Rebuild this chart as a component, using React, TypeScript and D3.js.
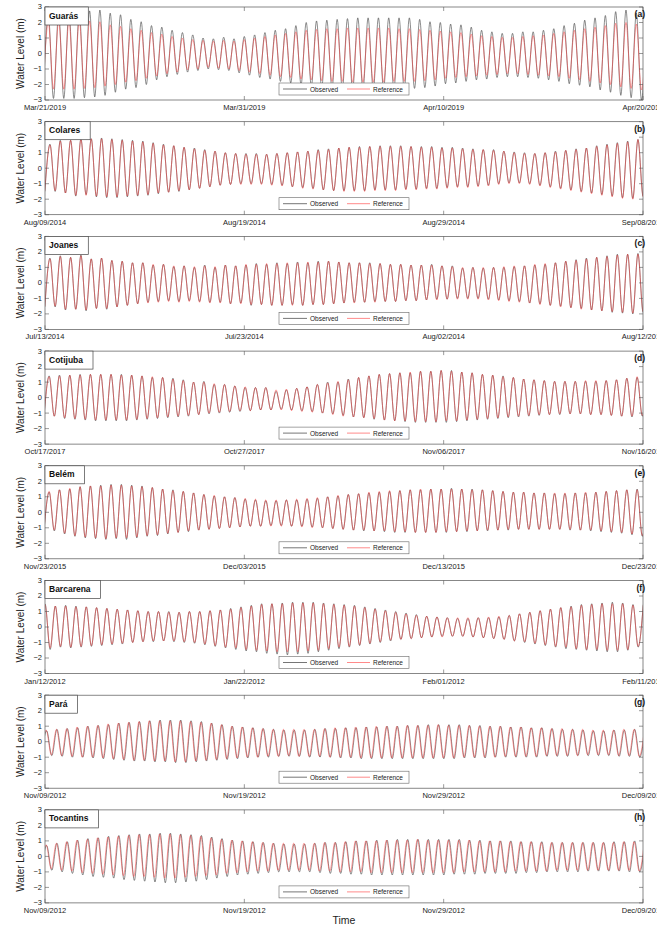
import React from "react";
import * as d3 from "d3";

// ---------- DATA (water level extrema per semidiurnal cycle, metres) ----------
const stationNames = ["Guarás", "Colares", "Joanes", "Cotijuba", "Belém", "Barcarena", "Pará", "Tocantins"];
const panelLetters = ["(a)", "(b)", "(c)", "(d)", "(e)", "(f)", "(g)", "(h)"];
const dateTicks = [
  ["Mar/21/2019", "Mar/31/2019", "Apr/10/2019", "Apr/20/2019"],
  ["Aug/09/2014", "Aug/19/2014", "Aug/29/2014", "Sep/08/2014"],
  ["Jul/13/2014", "Jul/23/2014", "Aug/02/2014", "Aug/12/2014"],
  ["Oct/17/2017", "Oct/27/2017", "Nov/06/2017", "Nov/16/2017"],
  ["Nov/23/2015", "Dec/03/2015", "Dec/13/2015", "Dec/23/2015"],
  ["Jan/12/2012", "Jan/22/2012", "Feb/01/2012", "Feb/11/2012"],
  ["Nov/09/2012", "Nov/19/2012", "Nov/29/2012", "Dec/09/2012"],
  ["Nov/09/2012", "Nov/19/2012", "Nov/29/2012", "Dec/09/2012"],
];
const tickDays = [0, 10, 20, 30];
const yTicks = [3, 2, 1, 0, -1, -2, -3];
const firstHighHour = [4, 6, 6, 5, 5, 0, 2, 2];
const refLagHour = [0, 0, 0, 0, 0, 0, -0.6, -0.7];
const tidalPeriodHours = 12.42;

const guarasObsHigh = [2.5, 2.6, 2.7, 2.7, 2.75, 2.8, 2.6, 2.5, 2.2, 2.05, 1.8, 1.7, 1.5, 1.35, 1.2, 1.0, 0.95, 1.05, 0.95, 1.1, 1.2, 1.35, 1.5, 1.6, 1.8, 2.0, 2.1, 2.15, 2.2, 2.25, 2.3, 2.3, 2.3, 2.3, 2.3, 2.3, 2.2, 2.05, 2.0, 1.9, 1.85, 1.7, 1.5, 1.4, 1.3, 1.3, 1.4, 1.4, 1.5, 1.6, 1.8, 1.95, 2.15, 2.3, 2.45, 2.7, 2.8, 2.6];
const guarasObsLow = [-2.9, -2.9, -2.9, -2.85, -2.8, -2.7, -2.5, -2.3, -2.2, -2.0, -1.7, -1.5, -1.35, -1.2, -1.1, -1.0, -1.05, -1.1, -1.25, -1.4, -1.55, -1.65, -1.8, -1.9, -2.0, -2.1, -2.2, -2.25, -2.3, -2.35, -2.35, -2.35, -2.3, -2.3, -2.3, -2.25, -2.2, -2.1, -1.95, -1.9, -1.8, -1.7, -1.65, -1.55, -1.5, -1.5, -1.55, -1.6, -1.7, -1.8, -1.95, -2.05, -2.15, -2.35, -2.5, -2.7, -2.85, -3.0];
const guarasRefHigh = [2.0, 2.1, 2.1, 2.1, 2.1, 2.05, 1.85, 1.75, 1.6, 1.5, 1.35, 1.25, 1.1, 1.0, 0.9, 0.85, 0.8, 0.85, 0.8, 0.9, 1.0, 1.1, 1.2, 1.3, 1.4, 1.5, 1.55, 1.6, 1.6, 1.65, 1.65, 1.65, 1.65, 1.65, 1.6, 1.6, 1.55, 1.5, 1.45, 1.4, 1.35, 1.25, 1.15, 1.1, 1.05, 1.05, 1.1, 1.15, 1.2, 1.3, 1.4, 1.5, 1.6, 1.7, 1.8, 1.95, 2.0, 1.9];
const guarasRefLow = [-2.3, -2.3, -2.3, -2.25, -2.2, -2.1, -2.0, -1.85, -1.75, -1.6, -1.45, -1.3, -1.2, -1.05, -1.0, -0.9, -0.95, -1.0, -1.1, -1.2, -1.3, -1.4, -1.5, -1.55, -1.65, -1.7, -1.75, -1.8, -1.8, -1.85, -1.85, -1.85, -1.85, -1.8, -1.8, -1.8, -1.75, -1.7, -1.6, -1.55, -1.5, -1.45, -1.4, -1.35, -1.3, -1.3, -1.35, -1.4, -1.45, -1.5, -1.6, -1.7, -1.8, -1.9, -2.0, -2.15, -2.25, -2.35];

const colaresObsHigh = [1.55, 1.8, 1.8, 1.9, 1.9, 1.95, 1.9, 1.85, 1.8, 1.75, 1.65, 1.55, 1.45, 1.35, 1.3, 1.2, 1.1, 1.0, 0.95, 0.95, 0.95, 0.9, 0.95, 1.0, 1.05, 1.1, 1.2, 1.25, 1.3, 1.35, 1.4, 1.4, 1.45, 1.45, 1.45, 1.4, 1.4, 1.4, 1.35, 1.35, 1.3, 1.25, 1.2, 1.2, 1.1, 1.05, 1.0, 0.95, 1.0, 1.1, 1.15, 1.25, 1.3, 1.45, 1.55, 1.65, 1.75, 1.85];
const colaresObsLow = [-1.5, -1.6, -1.8, -1.7, -1.85, -1.9, -1.9, -1.85, -1.8, -1.75, -1.65, -1.55, -1.5, -1.4, -1.3, -1.2, -1.1, -1.05, -1.0, -1.0, -1.0, -1.05, -1.1, -1.2, -1.25, -1.3, -1.4, -1.45, -1.45, -1.45, -1.45, -1.4, -1.4, -1.4, -1.35, -1.35, -1.3, -1.3, -1.25, -1.2, -1.2, -1.15, -1.1, -1.0, -0.95, -0.95, -1.0, -1.1, -1.2, -1.3, -1.4, -1.5, -1.6, -1.7, -1.8, -1.9, -1.95, -1.8];
const colaresRefHigh = [1.5, 1.75, 1.8, 1.85, 1.9, 1.9, 1.85, 1.8, 1.75, 1.7, 1.6, 1.5, 1.45, 1.35, 1.25, 1.15, 1.1, 1.0, 0.95, 0.9, 0.9, 0.9, 0.95, 1.0, 1.05, 1.1, 1.15, 1.2, 1.3, 1.35, 1.35, 1.4, 1.4, 1.4, 1.4, 1.4, 1.35, 1.35, 1.3, 1.3, 1.25, 1.2, 1.2, 1.15, 1.1, 1.0, 0.95, 0.95, 1.0, 1.05, 1.15, 1.2, 1.3, 1.4, 1.5, 1.6, 1.7, 1.85];
const colaresRefLow = [-1.45, -1.6, -1.75, -1.75, -1.8, -1.85, -1.85, -1.8, -1.75, -1.7, -1.6, -1.55, -1.45, -1.4, -1.3, -1.2, -1.1, -1.05, -1.05, -1.05, -1.05, -1.1, -1.15, -1.2, -1.3, -1.35, -1.4, -1.45, -1.5, -1.5, -1.5, -1.45, -1.45, -1.45, -1.4, -1.4, -1.35, -1.35, -1.3, -1.25, -1.25, -1.2, -1.15, -1.05, -1.0, -1.0, -1.05, -1.15, -1.25, -1.35, -1.45, -1.55, -1.65, -1.75, -1.85, -1.95, -2.0, -1.85];

const joanesObsHigh = [1.6, 1.75, 1.65, 1.8, 1.55, 1.6, 1.45, 1.4, 1.3, 1.3, 1.15, 1.2, 1.05, 1.1, 1.0, 1.15, 1.0, 1.15, 1.1, 1.15, 1.25, 1.2, 1.3, 1.25, 1.35, 1.3, 1.4, 1.4, 1.35, 1.3, 1.3, 1.3, 1.25, 1.2, 1.2, 1.15, 1.15, 1.2, 1.1, 1.1, 0.95, 1.0, 0.95, 1.0, 1.0, 1.05, 1.1, 1.15, 1.2, 1.3, 1.4, 1.5, 1.6, 1.65, 1.75, 1.85, 1.85, 1.9];
const joanesObsLow = [-1.55, -1.75, -1.7, -1.8, -1.65, -1.7, -1.55, -1.45, -1.35, -1.25, -1.2, -1.15, -1.2, -1.15, -1.2, -1.25, -1.25, -1.35, -1.3, -1.45, -1.4, -1.45, -1.45, -1.4, -1.45, -1.4, -1.4, -1.35, -1.3, -1.25, -1.25, -1.2, -1.2, -1.2, -1.15, -1.15, -1.1, -1.05, -1.05, -1.0, -1.0, -1.0, -1.05, -1.1, -1.15, -1.2, -1.3, -1.35, -1.45, -1.5, -1.6, -1.65, -1.75, -1.8, -1.9, -1.95, -2.0, -1.9];
const joanesRefHigh = [1.55, 1.7, 1.65, 1.75, 1.55, 1.6, 1.45, 1.4, 1.3, 1.3, 1.2, 1.2, 1.1, 1.1, 1.05, 1.1, 1.05, 1.15, 1.1, 1.2, 1.2, 1.25, 1.25, 1.3, 1.3, 1.35, 1.35, 1.4, 1.35, 1.3, 1.3, 1.25, 1.25, 1.2, 1.2, 1.15, 1.15, 1.15, 1.1, 1.05, 1.0, 1.0, 1.0, 1.0, 1.05, 1.1, 1.1, 1.2, 1.25, 1.3, 1.4, 1.45, 1.55, 1.65, 1.7, 1.8, 1.85, 1.85];
const joanesRefLow = [-1.5, -1.7, -1.7, -1.75, -1.65, -1.65, -1.55, -1.45, -1.35, -1.3, -1.25, -1.2, -1.25, -1.2, -1.25, -1.3, -1.3, -1.35, -1.35, -1.4, -1.4, -1.45, -1.45, -1.45, -1.45, -1.4, -1.4, -1.35, -1.3, -1.3, -1.25, -1.25, -1.2, -1.2, -1.15, -1.15, -1.1, -1.1, -1.05, -1.05, -1.05, -1.05, -1.1, -1.15, -1.2, -1.25, -1.3, -1.4, -1.45, -1.55, -1.6, -1.7, -1.75, -1.8, -1.85, -1.9, -1.95, -1.85];

const cotijubaObsHigh = [1.4, 1.45, 1.45, 1.5, 1.5, 1.5, 1.5, 1.5, 1.45, 1.4, 1.3, 1.3, 1.25, 1.15, 1.0, 1.05, 0.85, 0.85, 0.75, 0.65, 0.65, 0.65, 0.4, 0.5, 0.6, 0.7, 0.85, 1.0, 1.0, 1.2, 1.3, 1.4, 1.5, 1.55, 1.6, 1.6, 1.7, 1.7, 1.75, 1.75, 1.65, 1.6, 1.5, 1.45, 1.4, 1.3, 1.2, 1.15, 1.1, 1.05, 1.05, 1.05, 1.05, 1.05, 1.1, 1.15, 1.25, 1.3];
const cotijubaObsLow = [-1.2, -1.35, -1.4, -1.45, -1.5, -1.5, -1.5, -1.5, -1.45, -1.4, -1.35, -1.3, -1.25, -1.2, -1.1, -1.05, -1.0, -0.95, -0.9, -0.85, -0.8, -0.8, -0.75, -0.8, -0.85, -0.9, -1.0, -1.05, -1.15, -1.25, -1.3, -1.4, -1.45, -1.5, -1.55, -1.6, -1.6, -1.6, -1.6, -1.55, -1.5, -1.45, -1.4, -1.35, -1.3, -1.25, -1.2, -1.15, -1.1, -1.1, -1.05, -1.05, -1.1, -1.1, -1.15, -1.2, -1.25, -1.2];
const cotijubaRefHigh = [1.35, 1.4, 1.45, 1.45, 1.5, 1.5, 1.5, 1.45, 1.45, 1.4, 1.35, 1.3, 1.2, 1.1, 1.0, 1.0, 0.9, 0.85, 0.75, 0.7, 0.65, 0.65, 0.5, 0.55, 0.6, 0.7, 0.85, 0.95, 1.05, 1.15, 1.3, 1.4, 1.5, 1.55, 1.6, 1.65, 1.7, 1.7, 1.75, 1.7, 1.65, 1.6, 1.5, 1.45, 1.35, 1.3, 1.2, 1.15, 1.1, 1.05, 1.05, 1.05, 1.1, 1.1, 1.1, 1.15, 1.25, 1.35];
const cotijubaRefLow = [-1.2, -1.3, -1.35, -1.4, -1.45, -1.45, -1.45, -1.45, -1.4, -1.35, -1.3, -1.25, -1.2, -1.15, -1.1, -1.0, -0.95, -0.9, -0.85, -0.85, -0.8, -0.8, -0.8, -0.85, -0.9, -0.95, -1.0, -1.1, -1.2, -1.25, -1.3, -1.35, -1.45, -1.5, -1.5, -1.55, -1.55, -1.55, -1.5, -1.5, -1.45, -1.4, -1.35, -1.3, -1.25, -1.2, -1.15, -1.1, -1.1, -1.05, -1.05, -1.05, -1.1, -1.1, -1.15, -1.2, -1.2, -1.15];

const belemObsHigh = [1.3, 1.45, 1.5, 1.65, 1.7, 1.75, 1.8, 1.8, 1.75, 1.7, 1.6, 1.5, 1.45, 1.35, 1.25, 1.15, 1.05, 1.0, 0.95, 0.85, 0.8, 0.75, 0.75, 0.8, 0.8, 0.85, 0.9, 1.0, 1.05, 1.15, 1.2, 1.25, 1.3, 1.35, 1.4, 1.45, 1.45, 1.5, 1.5, 1.55, 1.5, 1.5, 1.45, 1.4, 1.35, 1.3, 1.3, 1.25, 1.25, 1.2, 1.2, 1.25, 1.25, 1.3, 1.35, 1.4, 1.45, 1.5];
const belemObsLow = [-1.2, -1.4, -1.55, -1.65, -1.7, -1.75, -1.7, -1.75, -1.65, -1.55, -1.5, -1.4, -1.3, -1.25, -1.15, -1.1, -1.05, -1.0, -0.95, -0.9, -0.9, -0.85, -0.85, -0.9, -0.9, -0.95, -1.0, -1.05, -1.1, -1.15, -1.2, -1.2, -1.25, -1.3, -1.3, -1.3, -1.3, -1.3, -1.3, -1.25, -1.25, -1.2, -1.2, -1.15, -1.15, -1.1, -1.1, -1.1, -1.1, -1.1, -1.15, -1.15, -1.2, -1.25, -1.3, -1.35, -1.45, -1.55];
const belemRefHigh = [1.35, 1.45, 1.55, 1.65, 1.7, 1.7, 1.75, 1.75, 1.7, 1.65, 1.6, 1.5, 1.4, 1.35, 1.25, 1.15, 1.1, 1.0, 0.95, 0.9, 0.85, 0.8, 0.8, 0.8, 0.85, 0.9, 0.95, 1.0, 1.1, 1.15, 1.2, 1.3, 1.35, 1.4, 1.4, 1.45, 1.5, 1.5, 1.5, 1.5, 1.5, 1.45, 1.45, 1.4, 1.35, 1.3, 1.3, 1.25, 1.25, 1.25, 1.25, 1.25, 1.3, 1.3, 1.35, 1.4, 1.45, 1.45];
const belemRefLow = [-1.15, -1.35, -1.5, -1.6, -1.65, -1.7, -1.65, -1.65, -1.6, -1.5, -1.45, -1.35, -1.3, -1.2, -1.15, -1.1, -1.05, -1.0, -0.95, -0.9, -0.9, -0.9, -0.9, -0.9, -0.95, -1.0, -1.0, -1.05, -1.1, -1.15, -1.15, -1.2, -1.2, -1.25, -1.25, -1.3, -1.3, -1.3, -1.25, -1.25, -1.2, -1.2, -1.15, -1.15, -1.1, -1.1, -1.1, -1.1, -1.1, -1.1, -1.1, -1.15, -1.15, -1.2, -1.25, -1.3, -1.4, -1.5];

const barcarenaObsHigh = [1.5, 1.35, 1.4, 1.35, 1.3, 1.25, 1.2, 1.15, 1.1, 1.05, 1.0, 1.0, 1.0, 0.95, 1.0, 1.0, 1.05, 1.1, 1.2, 1.3, 1.4, 1.5, 1.5, 1.55, 1.6, 1.6, 1.6, 1.55, 1.5, 1.45, 1.4, 1.3, 1.2, 1.1, 1.0, 0.9, 0.8, 0.7, 0.65, 0.6, 0.55, 0.55, 0.6, 0.6, 0.65, 0.75, 0.85, 0.95, 1.05, 1.15, 1.25, 1.35, 1.45, 1.5, 1.55, 1.6, 1.55, 1.45];
const barcarenaObsLow = [-1.45, -1.3, -1.35, -1.3, -1.25, -1.2, -1.15, -1.1, -1.0, -0.95, -0.95, -0.9, -0.95, -1.0, -1.05, -1.15, -1.25, -1.35, -1.45, -1.55, -1.6, -1.7, -1.75, -1.8, -1.75, -1.7, -1.6, -1.5, -1.4, -1.3, -1.2, -1.1, -1.0, -0.9, -0.8, -0.75, -0.7, -0.65, -0.6, -0.6, -0.6, -0.65, -0.7, -0.75, -0.8, -0.9, -1.0, -1.1, -1.2, -1.3, -1.4, -1.45, -1.5, -1.55, -1.6, -1.6, -1.5, -1.3];
const barcarenaRefHigh = [1.45, 1.35, 1.35, 1.3, 1.3, 1.25, 1.2, 1.15, 1.1, 1.05, 1.0, 1.0, 0.95, 0.95, 1.0, 1.0, 1.05, 1.1, 1.15, 1.25, 1.35, 1.45, 1.5, 1.5, 1.55, 1.55, 1.55, 1.5, 1.45, 1.4, 1.35, 1.25, 1.15, 1.05, 0.95, 0.85, 0.75, 0.7, 0.65, 0.6, 0.6, 0.6, 0.6, 0.65, 0.7, 0.75, 0.85, 0.95, 1.05, 1.15, 1.25, 1.3, 1.4, 1.45, 1.5, 1.5, 1.5, 1.4];
const barcarenaRefLow = [-1.35, -1.25, -1.3, -1.25, -1.2, -1.15, -1.1, -1.05, -1.0, -0.95, -0.9, -0.9, -0.9, -0.95, -1.0, -1.1, -1.2, -1.3, -1.35, -1.45, -1.5, -1.55, -1.6, -1.6, -1.6, -1.55, -1.5, -1.4, -1.3, -1.25, -1.15, -1.05, -0.95, -0.85, -0.8, -0.75, -0.7, -0.65, -0.65, -0.6, -0.6, -0.65, -0.7, -0.75, -0.8, -0.9, -0.95, -1.05, -1.15, -1.25, -1.3, -1.4, -1.45, -1.45, -1.5, -1.5, -1.45, -1.25];

const paraObsHigh = [0.7, 0.8, 0.85, 0.9, 1.0, 1.05, 1.1, 1.2, 1.25, 1.3, 1.35, 1.4, 1.4, 1.4, 1.35, 1.3, 1.2, 1.1, 1.0, 0.95, 0.9, 0.85, 0.8, 0.75, 0.75, 0.75, 0.8, 0.85, 0.85, 0.9, 0.9, 0.95, 0.95, 1.0, 1.0, 1.05, 1.05, 1.1, 1.1, 1.1, 1.1, 1.05, 1.05, 1.0, 1.0, 0.95, 0.95, 0.9, 0.9, 0.85, 0.8, 0.8, 0.75, 0.7, 0.7, 0.75, 0.75, 0.8];
const paraObsLow = [-0.9, -0.95, -1.0, -1.0, -1.05, -1.1, -1.15, -1.2, -1.25, -1.25, -1.3, -1.3, -1.35, -1.35, -1.3, -1.25, -1.2, -1.15, -1.1, -1.05, -1.0, -1.0, -0.95, -0.95, -0.95, -1.0, -1.0, -1.0, -1.05, -1.05, -1.1, -1.1, -1.1, -1.1, -1.1, -1.1, -1.1, -1.1, -1.1, -1.1, -1.05, -1.05, -1.05, -1.0, -1.0, -1.0, -1.0, -1.0, -0.95, -0.95, -0.95, -0.9, -0.9, -0.9, -0.9, -0.95, -0.95, -1.0];
const paraRefHigh = [0.75, 0.8, 0.85, 0.95, 1.0, 1.05, 1.15, 1.2, 1.25, 1.3, 1.35, 1.35, 1.35, 1.35, 1.3, 1.25, 1.2, 1.1, 1.0, 0.95, 0.9, 0.85, 0.8, 0.8, 0.8, 0.8, 0.8, 0.85, 0.9, 0.9, 0.95, 0.95, 1.0, 1.0, 1.0, 1.05, 1.05, 1.05, 1.1, 1.05, 1.05, 1.05, 1.0, 1.0, 1.0, 0.95, 0.95, 0.9, 0.9, 0.85, 0.85, 0.8, 0.8, 0.75, 0.75, 0.75, 0.8, 0.8];
const paraRefLow = [-0.85, -0.9, -0.95, -1.0, -1.0, -1.05, -1.1, -1.15, -1.2, -1.2, -1.25, -1.25, -1.3, -1.3, -1.25, -1.2, -1.15, -1.1, -1.05, -1.0, -1.0, -0.95, -0.95, -0.9, -0.95, -0.95, -0.95, -1.0, -1.0, -1.0, -1.05, -1.05, -1.05, -1.05, -1.05, -1.05, -1.05, -1.05, -1.05, -1.05, -1.0, -1.0, -1.0, -1.0, -0.95, -0.95, -0.95, -0.95, -0.9, -0.9, -0.9, -0.9, -0.85, -0.85, -0.85, -0.9, -0.9, -0.95];

const tocantinsObsHigh = [0.7, 0.85, 0.95, 1.05, 1.15, 1.2, 1.3, 1.35, 1.4, 1.45, 1.45, 1.5, 1.5, 1.45, 1.4, 1.35, 1.25, 1.15, 1.05, 1.0, 0.95, 0.9, 0.85, 0.8, 0.8, 0.8, 0.85, 0.9, 0.9, 0.95, 1.0, 1.0, 1.05, 1.05, 1.1, 1.1, 1.1, 1.1, 1.1, 1.1, 1.1, 1.05, 1.05, 1.0, 1.0, 1.0, 0.95, 0.95, 0.95, 0.9, 0.9, 0.9, 0.9, 0.9, 0.9, 0.95, 0.95, 1.0];
const tocantinsObsLow = [-0.9, -1.0, -1.1, -1.2, -1.3, -1.35, -1.4, -1.5, -1.55, -1.6, -1.65, -1.7, -1.7, -1.65, -1.6, -1.5, -1.4, -1.3, -1.2, -1.15, -1.1, -1.05, -1.0, -1.0, -1.0, -1.0, -1.05, -1.1, -1.1, -1.15, -1.15, -1.2, -1.2, -1.2, -1.2, -1.2, -1.2, -1.2, -1.2, -1.15, -1.15, -1.15, -1.1, -1.1, -1.1, -1.1, -1.05, -1.05, -1.0, -1.0, -1.0, -1.0, -0.95, -0.95, -0.95, -0.95, -1.0, -1.0];
const tocantinsRefHigh = [0.75, 0.85, 0.95, 1.05, 1.1, 1.2, 1.25, 1.3, 1.35, 1.4, 1.4, 1.45, 1.45, 1.4, 1.35, 1.3, 1.2, 1.1, 1.05, 1.0, 0.95, 0.9, 0.85, 0.85, 0.85, 0.85, 0.85, 0.9, 0.9, 0.95, 1.0, 1.0, 1.0, 1.05, 1.05, 1.05, 1.1, 1.05, 1.05, 1.05, 1.05, 1.05, 1.0, 1.0, 1.0, 0.95, 0.95, 0.95, 0.9, 0.9, 0.9, 0.9, 0.9, 0.9, 0.9, 0.9, 0.95, 0.95];
const tocantinsRefLow = [-0.8, -0.9, -0.95, -1.05, -1.1, -1.15, -1.2, -1.25, -1.3, -1.3, -1.35, -1.4, -1.4, -1.35, -1.3, -1.25, -1.2, -1.1, -1.05, -1.0, -0.95, -0.95, -0.9, -0.9, -0.9, -0.9, -0.95, -0.95, -1.0, -1.0, -1.0, -1.05, -1.05, -1.05, -1.05, -1.05, -1.05, -1.05, -1.05, -1.05, -1.0, -1.0, -1.0, -1.0, -1.0, -0.95, -0.95, -0.95, -0.95, -0.9, -0.9, -0.9, -0.9, -0.9, -0.9, -0.9, -0.9, -0.95];

const observedHighs = [guarasObsHigh, colaresObsHigh, joanesObsHigh, cotijubaObsHigh, belemObsHigh, barcarenaObsHigh, paraObsHigh, tocantinsObsHigh];
const observedLows = [guarasObsLow, colaresObsLow, joanesObsLow, cotijubaObsLow, belemObsLow, barcarenaObsLow, paraObsLow, tocantinsObsLow];
const referenceHighs = [guarasRefHigh, colaresRefHigh, joanesRefHigh, cotijubaRefHigh, belemRefHigh, barcarenaRefHigh, paraRefHigh, tocantinsRefHigh];
const referenceLows = [guarasRefLow, colaresRefLow, joanesRefLow, cotijubaRefLow, belemRefLow, barcarenaRefLow, paraRefLow, tocantinsRefLow];

// ---------- LAYOUT ----------
const W = 657;
const H = 926;
const X0 = 45;
const X1 = 643;
const PANEL_H = 93;
const PANEL_STEP = 114.7;
const FIRST_TOP = 7;
const FONT = "'Liberation Sans', Arial, Helvetica, sans-serif";
const OBS_COLOR = "#1a1a1a";
const REF_COLOR = "#ff3b3b";

function extremaPoints(highs: number[], lows: number[], t0: number): [number, number][] {
  const T = tidalPeriodHours;
  const pts: [number, number][] = [];
  pts.push([t0 - T / 2, lows[0]]);
  highs.forEach((h, i) => {
    pts.push([t0 + i * T, h]);
    if (i < lows.length) pts.push([t0 + (i + 0.5) * T, lows[i]]);
  });
  pts.push([t0 + highs.length * T, highs[highs.length - 1]]);
  return pts;
}

let measureCtx: CanvasRenderingContext2D | null = null;
function textWidth(s: string, font: string): number {
  if (!measureCtx) {
    const c = document.createElement("canvas");
    measureCtx = c.getContext("2d");
  }
  if (!measureCtx) return s.length * 5;
  measureCtx.font = font;
  return measureCtx.measureText(s).width;
}

function Panel({ idx }: { idx: number }) {
  const top = FIRST_TOP + idx * PANEL_STEP;
  const bottom = top + PANEL_H;
  const x = d3.scaleLinear().domain([0, 30 * 24]).range([X0, X1]);
  const y = d3.scaleLinear().domain([-3, 3]).range([bottom, top]);
  const line = d3
    .line<[number, number]>()
    .x((d) => x(d[0]))
    .y((d) => y(d[1]))
    .curve(d3.curveMonotoneX);
  const t0 = firstHighHour[idx];
  const obs = extremaPoints(observedHighs[idx], observedLows[idx], t0);
  const ref = extremaPoints(referenceHighs[idx], referenceLows[idx], t0 + refLagHour[idx]);
  const clipId = `clip-${idx}`;
  const fmt = d3.format("d");
  const name = stationNames[idx];
  const nameFont = `bold 8.5px ${FONT}`;
  const nw = textWidth(name, nameFont);
  const legY = top + 76;
  const midY = (top + bottom) / 2;
  return (
    <g>
      <defs>
        <clipPath id={clipId}>
          <rect x={X0} y={top} width={X1 - X0} height={PANEL_H} />
        </clipPath>
      </defs>
      <rect x={X0} y={top} width={X1 - X0} height={PANEL_H} fill="#fff" />
      <g clipPath={`url(#${clipId})`}>
        <path d={line(obs) || ""} fill="none" stroke={OBS_COLOR} strokeWidth={0.5} />
        <path d={line(ref) || ""} fill="none" stroke={REF_COLOR} strokeWidth={0.5} />
      </g>
      <rect x={X0} y={top} width={X1 - X0} height={PANEL_H} fill="none" stroke="#555" strokeWidth={0.7} />
      {yTicks.map((v) => (
        <g key={"y" + v}>
          <line x1={X0} x2={X0 + 4} y1={y(v)} y2={y(v)} stroke="#555" strokeWidth={0.6} />
          <line x1={X1 - 4} x2={X1} y1={y(v)} y2={y(v)} stroke="#555" strokeWidth={0.6} />
          <text x={X0 - 3} y={y(v)} dy="0.33em" textAnchor="end" fontSize={7.5} fontFamily={FONT} fill="#222">
            {fmt(v)}
          </text>
        </g>
      ))}
      {tickDays.map((dd, k) => (
        <g key={"x" + dd}>
          <line x1={x(dd * 24)} x2={x(dd * 24)} y1={bottom} y2={bottom - 4} stroke="#555" strokeWidth={0.6} />
          <line x1={x(dd * 24)} x2={x(dd * 24)} y1={top} y2={top + 4} stroke="#555" strokeWidth={0.6} />
          <text x={x(dd * 24)} y={bottom + 10} textAnchor="middle" fontSize={7.5} fontFamily={FONT} fill="#222">
            {dateTicks[idx][k]}
          </text>
        </g>
      ))}
      <rect x={X0} y={top} width={nw + 14} height={18} fill="#fff" stroke="#444" strokeWidth={0.7} />
      <text x={X0 + 4} y={top + 11.5} fontSize={8.5} fontWeight="bold" fontFamily={FONT} fill="#111">
        {name}
      </text>
      <text x={X1 + 2} y={top + 10} textAnchor="end" fontSize={8.5} fontWeight="bold" fontFamily={FONT} fill="#111">
        {panelLetters[idx]}
      </text>
      <rect x={279} y={legY} width={130} height={12} fill="#fff" stroke="#666" strokeWidth={0.6} />
      <line x1={283} x2={307} y1={legY + 6} y2={legY + 6} stroke={OBS_COLOR} strokeWidth={0.6} />
      <text x={310} y={legY + 8.5} fontSize={6.5} fontFamily={FONT} fill="#222">
        Observed
      </text>
      <line x1={347} x2={370} y1={legY + 6} y2={legY + 6} stroke={REF_COLOR} strokeWidth={0.6} />
      <text x={373} y={legY + 8.5} fontSize={6.5} fontFamily={FONT} fill="#222">
        Reference
      </text>
      <text
        transform={`translate(24, ${midY}) rotate(-90)`}
        textAnchor="middle"
        fontSize={10}
        fontFamily={FONT}
        fill="#222"
      >
        Water Level (m)
      </text>
    </g>
  );
}

export default function App() {
  return (
    <svg
      width={W}
      height={H}
      viewBox={`0 0 ${W} ${H}`}
      style={{ position: "absolute", left: 0, top: 0, background: "#fff", overflow: "hidden" }}
    >
      <rect x={0} y={0} width={W} height={H} fill="#fff" />
      {stationNames.map((_, i) => (
        <Panel key={i} idx={i} />
      ))}
      <text x={(X0 + X1) / 2} y={924} textAnchor="middle" fontSize={10.5} fontFamily={FONT} fill="#222">
        Time
      </text>
    </svg>
  );
}
